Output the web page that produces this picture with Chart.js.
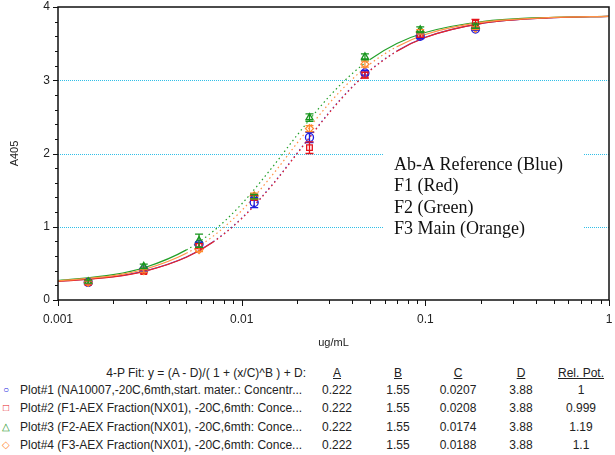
<!DOCTYPE html>
<html>
<head>
<meta charset="utf-8">
<script src="https://cdn.jsdelivr.net/npm/chart.js@4.4.1/dist/chart.umd.min.js"></script>
<style>
  body { margin: 0; background: #fff; width: 615px; height: 455px; overflow: hidden; position: relative; font-family: "Liberation Sans", Arial, sans-serif; color: #222; }
  #wrap { position: absolute; left: 0; top: 0; width: 615px; height: 350px; }
  .t { position: absolute; font-size: 12px; white-space: nowrap; line-height: 14px; }
  .c { transform: translateX(-50%); }
  .u { text-decoration: underline; }
</style>
</head>
<body>
<div id="wrap"><canvas id="fit"></canvas></div>
<div id="table"></div>
<script>
// dilution series (ug/mL)
const xConc = [0.00146, 0.00293, 0.00586, 0.0117, 0.0234, 0.0469, 0.0938, 0.1875];
const blueY = [0.24, 0.41, 0.76, 1.33, 2.22, 3.10, 3.60, 3.70];
const redY = [0.24, 0.39, 0.74, 1.40, 2.08, 3.07, 3.62, 3.78];
const greenY = [0.25, 0.46, 0.81, 1.41, 2.49, 3.32, 3.69, 3.74];
const orangeY = [0.24, 0.40, 0.69, 1.42, 2.34, 3.22, 3.66, 3.71];
const blueErr = [0.02, 0.02, 0.03, 0.07, 0.07, 0.03, 0.03, 0.02];
const redErr = [0.02, 0.02, 0.03, 0.03, 0.08, 0.04, 0.03, 0.05];
const greenErr = [0.02, 0.03, 0.09, 0.03, 0.05, 0.04, 0.04, 0.03];
const orangeErr = [0.02, 0.02, 0.03, 0.04, 0.04, 0.04, 0.03, 0.02];

// fitted curves
const fitX = [0.001, 0.002, 0.003, 0.005, 0.007, 0.01, 0.015, 0.02, 0.03, 0.04, 0.05, 0.07, 0.1, 0.2, 0.5, 1];
const blueFit = [0.255, 0.317, 0.397, 0.586, 0.796, 1.117, 1.604, 2.002, 2.563, 2.911, 3.137, 3.399, 3.587, 3.774, 3.854, 3.871];
const redFit = [0.254, 0.316, 0.395, 0.583, 0.792, 1.111, 1.597, 1.995, 2.556, 2.905, 3.132, 3.395, 3.584, 3.773, 3.854, 3.871];
const greenFit = [0.265, 0.346, 0.447, 0.684, 0.939, 1.311, 1.842, 2.248, 2.780, 3.091, 3.284, 3.501, 3.652, 3.799, 3.860, 3.873];
const orangeFit = [0.260, 0.332, 0.423, 0.638, 0.872, 1.221, 1.734, 2.139, 2.686, 3.014, 3.222, 3.458, 3.625, 3.789, 3.858, 3.872];

const yTicks = [0, 1, 2, 3, 4];
const gridVals = [1, 2, 3];
const xTickLabels = ["0.001", "0.01", "0.1", "1"];
const noteLines = ["Ab-A Reference (Blue)", "F1 (Red)", "F2 (Green)", "F3 Main (Orange)"];

const plotNames = [
  "Plot#1 (NA10007,-20C,6mth,start. mater.: Concentr...",
  "Plot#2 (F1-AEX Fraction(NX01), -20C,6mth: Conce...",
  "Plot#3 (F2-AEX Fraction(NX01), -20C,6mth: Conce...",
  "Plot#4 (F3-AEX Fraction(NX01), -20C,6mth: Conce..."
];
const paramA = ["0.222", "0.222", "0.222", "0.222"];
const paramB = ["1.55", "1.55", "1.55", "1.55"];
const paramC = ["0.0207", "0.0208", "0.0174", "0.0188"];
const paramD = ["3.88", "3.88", "3.88", "3.88"];
const relPot = ["1", "0.999", "1.19", "1.1"];
const symbols = ["○", "□", "△", "◇"];

const BLUE = '#1c1ce0', RED = '#e5141c', GREEN = '#18961e', ORANGE = '#ff8a30';
const colors = [BLUE, RED, GREEN, ORANGE];
const FONT = '"Liberation Sans", Arial, sans-serif';

function pts(xs, ys) { return xs.map((x, i) => ({x: x, y: ys[i]})); }

// steep parts of the fit look dotted in the original
const steepDash = ctx => {
  const dx = Math.abs(ctx.p1.x - ctx.p0.x), dy = Math.abs(ctx.p1.y - ctx.p0.y);
  return dy > 0.6 * dx ? [1.5, 3] : undefined;
};

function fitSet(data, color, order) {
  return {
    type: 'line', data: pts(fitX, data), borderColor: color, borderWidth: 1.2,
    pointRadius: 0, cubicInterpolationMode: 'monotone', fill: false, order: order,
    segment: {borderDash: steepDash}
  };
}
function pointSet(data, err, color, style, order) {
  return {
    type: 'scatter', data: pts(xConc, data), err: err, borderColor: color,
    backgroundColor: 'rgba(0,0,0,0)', pointStyle: style, pointRadius: 4,
    pointBorderWidth: 1.3, order: order, showLine: false
  };
}

const gridPlugin = {
  id: 'gridPlugin',
  beforeDatasetsDraw(chart) {
    const c = chart.ctx, a = chart.chartArea, ys = chart.scales.y;
    c.save();
    c.strokeStyle = '#30bfe8'; c.lineWidth = 1; c.setLineDash([1, 1]);
    gridVals.forEach(v => {
      const py = Math.round(ys.getPixelForValue(v)) + 0.5;
      c.beginPath(); c.moveTo(a.left, py); c.lineTo(a.right, py); c.stroke();
    });
    c.restore();
  }
};

const errorBars = {
  id: 'errorBars',
  afterDatasetsDraw(chart) {
    const c = chart.ctx, ys = chart.scales.y, xs = chart.scales.x;
    chart.data.datasets.forEach(ds => {
      if (!ds.err) return;
      c.save();
      c.strokeStyle = ds.borderColor; c.lineWidth = 1.3;
      ds.data.forEach((p, i) => {
        const px = xs.getPixelForValue(p.x);
        const top = ys.getPixelForValue(p.y + ds.err[i]);
        const bot = ys.getPixelForValue(p.y - ds.err[i]);
        c.beginPath();
        c.moveTo(px, top); c.lineTo(px, bot);
        c.moveTo(px - 4, top); c.lineTo(px + 4, top);
        c.moveTo(px - 4, bot); c.lineTo(px + 4, bot);
        c.stroke();
      });
      c.restore();
    });
  }
};

const frame = {
  id: 'frame',
  afterDraw(chart) {
    const c = chart.ctx, a = chart.chartArea, xs = chart.scales.x, ys = chart.scales.y;
    c.save();
    // text box over the grid
    c.fillStyle = '#fff';
    c.fillRect(383, 147, 200, 94);
    c.fillStyle = '#111';
    c.font = '18px "Liberation Serif", "Times New Roman", serif';
    c.textBaseline = 'middle';
    noteLines.forEach((t, i) => c.fillText(t, 394, 165 + i * 21.5));
    // frame
    c.strokeStyle = '#111'; c.lineWidth = 1.5;
    c.strokeRect(a.left, a.top, a.right - a.left, a.bottom - a.top);
    c.lineWidth = 1;
    // y ticks every 0.2
    for (let v = 0; v <= 4.001; v += 0.2) {
      const py = Math.round(ys.getPixelForValue(v)) + 0.5;
      const major = Math.abs(v - Math.round(v)) < 0.01;
      c.beginPath(); c.moveTo(a.left - (major ? 5 : 3), py); c.lineTo(a.left, py); c.stroke();
    }
    // x ticks 1..9 per decade
    for (let e = -3; e < 0; e++) {
      for (let m = 1; m <= 10; m++) {
        const px = Math.round(xs.getPixelForValue(m * Math.pow(10, e))) + 0.5;
        const major = (m === 1 || m === 10);
        c.beginPath(); c.moveTo(px, a.bottom); c.lineTo(px, a.bottom + (major ? 6 : 4)); c.stroke();
      }
    }
    // tick labels
    c.fillStyle = '#222';
    c.font = '12px ' + FONT;
    c.textAlign = 'right'; c.textBaseline = 'middle';
    yTicks.forEach(v => c.fillText(String(v), a.left - 8, ys.getPixelForValue(v)));
    c.textAlign = 'center';
    xTickLabels.forEach(t => c.fillText(t, xs.getPixelForValue(parseFloat(t)), a.bottom + 20));
    // axis titles
    c.font = '11px ' + FONT;
    c.fillText('ug/mL', (a.left + a.right) / 2, 343);
    c.translate(15, (a.top + a.bottom) / 2);
    c.rotate(-Math.PI / 2);
    c.fillText('A405', 0, 0);
    c.restore();
  }
};

new Chart('fit', {
  data: {
    datasets: [
      fitSet(blueFit, '#3a3ad8', 8),
      fitSet(greenFit, '#22a028', 7),
      fitSet(redFit, '#ee2424', 6),
      fitSet(orangeFit, '#ff9244', 5),
      pointSet(blueY, blueErr, BLUE, 'circle', 4),
      pointSet(redY, redErr, RED, 'rect', 3),
      pointSet(orangeY, orangeErr, ORANGE, 'rectRot', 2),
      pointSet(greenY, greenErr, GREEN, 'triangle', 1)
    ]
  },
  options: {
    responsive: true, maintainAspectRatio: false, animation: false,
    layout: {padding: {top: 7, right: 6, left: 0, bottom: 0}},
    plugins: {legend: {display: false}, tooltip: {enabled: false}},
    scales: {
      x: {
        type: 'logarithmic', min: 0.001, max: 1,
        afterFit: s => { s.height = 50; },
        ticks: {display: false},
        grid: {display: false, drawTicks: false},
        border: {display: false}
      },
      y: {
        min: 0, max: 4,
        afterFit: s => { s.width = 58; },
        ticks: {display: false},
        grid: {display: false, drawTicks: false},
        border: {display: false}
      }
    }
  },
  plugins: [gridPlugin, errorBars, frame]
});

// parameter table under the plot
const tbl = document.getElementById('table');
function put(text, x, y, cls, color) {
  const d = document.createElement('div');
  d.className = 't ' + (cls || '');
  d.textContent = text;
  d.style.left = x + 'px'; d.style.top = (y - 7) + 'px';
  if (color) d.style.color = color;
  tbl.appendChild(d);
}
const hdr = document.createElement('div');
hdr.className = 't'; hdr.textContent = '4-P Fit: y = (A - D)/( 1 + (x/C)^B ) + D:';
hdr.style.right = (615 - 306) + 'px'; hdr.style.top = (373 - 7) + 'px';
tbl.appendChild(hdr);
put('A', 337, 373, 'c u'); put('B', 398, 373, 'c u'); put('C', 458, 373, 'c u');
put('D', 521, 373, 'c u'); put('Rel. Pot.', 581, 373, 'c u');
const rowY = [390, 408, 427, 445];
plotNames.forEach((n, i) => {
  const y = rowY[i];
  const s = document.createElement('div');
  s.className = 't c'; s.textContent = symbols[i];
  s.style.left = '6px'; s.style.top = (y - 7) + 'px'; s.style.color = colors[i]; s.style.fontSize = '10px';
  tbl.appendChild(s);
  put(n, 20, y);
  put(paramA[i], 337, y, 'c'); put(paramB[i], 398, y, 'c'); put(paramC[i], 458, y, 'c');
  put(paramD[i], 521, y, 'c'); put(relPot[i], 581, y, 'c');
});
</script>
</body>
</html>
